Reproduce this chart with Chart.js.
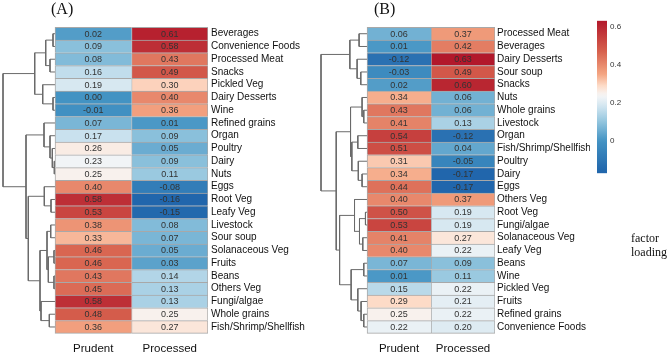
<!DOCTYPE html>
<html>
<head>
<meta charset="utf-8">
<script src="https://cdn.jsdelivr.net/npm/chart.js@4.4.1/dist/chart.umd.min.js"></script>
<style>
  html, body { margin: 0; padding: 0; background: #fff; }
  #wrap { position: relative; width: 669px; height: 355px; overflow: hidden; }
  canvas { position: absolute; top: 0; }
  .tag { position: absolute; font-family: "Liberation Serif", "Times New Roman", serif; color: #111; white-space: nowrap; }
</style>
</head>
<body>
<div id="wrap">
  <canvas id="heatA" width="318" height="355" style="left:0"></canvas>
  <canvas id="heatB" width="274" height="355" style="left:316px"></canvas>
  <canvas id="legend" width="79" height="355" style="left:590px"></canvas>
  <div class="tag" style="left:51px;top:0;font-size:16px;line-height:18px">(A)</div>
  <div class="tag" style="left:374px;top:0;font-size:16px;line-height:18px">(B)</div>
  <div class="tag" style="left:631px;top:231px;font-size:12px;line-height:14px">factor<br>loading</div>
</div>
<script>
const columns = ['Prudent', 'Processed'];

// panel A
const foodsA = ['Beverages', 'Convenience Foods', 'Processed Meat', 'Snacks', 'Pickled Veg',
  'Dairy Desserts', 'Wine', 'Refined grains', 'Organ', 'Poultry', 'Dairy', 'Nuts', 'Eggs',
  'Root Veg', 'Leafy Veg', 'Livestock', 'Sour soup', 'Solanaceous Veg', 'Fruits', 'Beans',
  'Others Veg', 'Fungi/algae', 'Whole grains', 'Fish/Shrimp/Shellfish'];
const prudentA = [0.02, 0.09, 0.08, 0.16, 0.19, 0.00, -0.01, 0.07, 0.17, 0.26, 0.23, 0.25, 0.40,
  0.58, 0.53, 0.38, 0.33, 0.46, 0.46, 0.43, 0.45, 0.58, 0.48, 0.36];
const processedA = [0.61, 0.58, 0.43, 0.49, 0.30, 0.40, 0.36, 0.01, 0.09, 0.05, 0.09, 0.11, -0.08,
  -0.16, -0.15, 0.08, 0.07, 0.05, 0.03, 0.14, 0.13, 0.13, 0.25, 0.27];
// row clustering: [left, right, height], a number is a row
const treeA = [
  [[[0, 1, 2], [2, 3, 5], 9.3], [4, [5, 6, 2], 12.3], 20.3],
  [[7, [8, [9, [10, 11, 0.7], 2.7], 5], 11],
   [[12, [13, 14, 4], 10.7],
    [[[15, 16, 4.3], [[17, 18, 1], [19, 20, 1], 6.7], 8], [21, [22, 23, 5.7], 14], 15],
    26.7],
   29],
  52];

// panel B
const foodsB = ['Processed Meat', 'Beverages', 'Dairy Desserts', 'Sour soup', 'Snacks', 'Nuts',
  'Whole grains', 'Livestock', 'Organ', 'Fish/Shrimp/Shellfish', 'Poultry', 'Dairy', 'Eggs',
  'Others Veg', 'Root Veg', 'Fungi/algae', 'Solanaceous Veg', 'Leafy Veg', 'Beans', 'Wine',
  'Pickled Veg', 'Fruits', 'Refined grains', 'Convenience Foods'];
const prudentB = [0.06, 0.01, -0.12, -0.03, 0.02, 0.34, 0.43, 0.41, 0.54, 0.51, 0.31, 0.34, 0.44,
  0.40, 0.50, 0.53, 0.41, 0.40, 0.07, 0.01, 0.15, 0.29, 0.25, 0.22];
const processedB = [0.37, 0.42, 0.63, 0.49, 0.60, 0.06, 0.06, 0.13, -0.12, 0.04, -0.05, -0.17, -0.17,
  0.37, 0.19, 0.19, 0.27, 0.22, 0.09, 0.11, 0.22, 0.21, 0.22, 0.20];
const treeB = [
  [[0, 1, 8], [2, [3, 4, 6.3], 10], 17.3],
  [[[5, [6, 7, 3.3], 5], [[8, 9, 9.3], [10, [11, 12, 5], 8.8], 15.3], 16.6],
   [[13, [[14, 15, 1.6], [16, 17, 4.3], 7.6], 12.6],
    [[18, 19, 3.3], [20, [21, [22, 23, 3.3], 6], 9.3], 16],
    27.6],
   31],
  46.3];

const legendTicks = [0, 0.2, 0.4, 0.6];

// blue - white - red ramp
const palette = [
  [-0.16, '#2166AC'], [0.0, '#4393C3'], [0.1, '#92C5DE'], [0.18, '#D1E5F0'], [0.24, '#F7F7F7'],
  [0.29, '#FDDBC7'], [0.35, '#F4A582'], [0.47, '#D6604D'], [0.63, '#B2182B']
];

const sans = '"Liberation Sans", Arial, sans-serif';

function hexRgb(h) {
  const n = parseInt(h.slice(1), 16);
  return [n >> 16, (n >> 8) & 255, n & 255];
}

function loadingColor(v) {
  if (v <= palette[0][0]) return palette[0][1];
  for (let i = 1; i < palette.length; i++) {
    if (v <= palette[i][0]) {
      const [v0, c0] = palette[i - 1];
      const [v1, c1] = palette[i];
      const t = (v - v0) / (v1 - v0);
      const a = hexRgb(c0), b = hexRgb(c1);
      return 'rgb(' + a.map((x, k) => Math.round(x + (b[k] - x) * t)).join(',') + ')';
    }
  }
  return palette[palette.length - 1][1];
}

// elbow lines of the dendrogram, height grows to the left of the heatmap
function treePoints(tree, k) {
  const pts = [];
  const walk = node => {
    if (typeof node === 'number') return { y: node, h: 0 };
    const [l, r, h] = node;
    const a = walk(l), b = walk(r);
    pts.push({ x: -a.h * k, y: a.y }, { x: -h * k, y: a.y }, { x: -h * k, y: b.y },
      { x: -b.h * k, y: b.y }, { x: null, y: null });
    return { y: (a.y + b.y) / 2, h };
  };
  walk(tree);
  return pts;
}

const cellText = {
  id: 'cellText',
  afterDatasetsDraw(chart) {
    const ctx = chart.ctx;
    ctx.save();
    ctx.font = '9px ' + sans;
    ctx.fillStyle = '#333';
    ctx.textAlign = 'center';
    ctx.textBaseline = 'middle';
    chart.data.datasets.forEach((ds, d) => {
      if (!ds.values) return;
      chart.getDatasetMeta(d).data.forEach((bar, i) => {
        const { x, base, y } = bar.getProps(['x', 'base', 'y'], true);
        ctx.fillText(ds.values[i].toFixed(2), (x + base) / 2, y + 0.5);
      });
    });
    ctx.restore();
  }
};

function heatmap(id, foods, prudent, processed, tree, o) {
  const k = o.treeWidth / tree[2];
  const datasets = [prudent, processed].map((vals, c) => ({
    type: 'bar',
    label: columns[c],
    values: vals,
    data: vals.map((v, i) => ({ x: [c, c + 1], y: i })),
    backgroundColor: ctx => loadingColor(vals[ctx.dataIndex]),
    borderColor: '#a8a8a8',
    borderWidth: ctx => ({ left: 1, top: 1, right: c === 1 ? 1 : 0, bottom: ctx.dataIndex === vals.length - 1 ? 1 : 0 }),
    borderSkipped: false,
    grouped: false,
    barPercentage: 1,
    categoryPercentage: 1
  }));
  datasets.push({
    type: 'line',
    data: treePoints(tree, k),
    borderColor: '#6a6a6a',
    borderWidth: 1,
    pointRadius: 0,
    fill: false,
    spanGaps: false,
    clip: false
  });

  return new Chart(document.getElementById(id), {
    type: 'bar',
    data: { datasets },
    options: {
      indexAxis: 'y',
      responsive: false,
      animation: false,
      events: [],
      layout: { padding: o.padding },
      plugins: { legend: { display: false }, tooltip: { enabled: false } },
      scales: {
        x: {
          type: 'linear', min: -o.treeWidth, max: 2, position: 'bottom',
          grid: { display: false, drawTicks: false }, border: { display: false },
          afterBuildTicks: s => { s.ticks = columns.map((_, c) => ({ value: c + 0.5 })); },
          afterFit: s => { s.height = 15; },
          ticks: { callback: (v, i) => columns[i], font: { family: sans, size: 11.5 }, color: '#111',
            padding: 2, maxRotation: 0, autoSkip: false }
        },
        y: {
          type: 'linear', reverse: true, min: -0.5, max: foods.length - 0.5, position: 'right',
          grid: { display: false, drawTicks: false }, border: { display: false },
          afterBuildTicks: s => { s.ticks = foods.map((_, i) => ({ value: i })); },
          afterFit: s => { s.width = o.yAxisWidth; },
          ticks: { callback: (v, i) => foods[i], font: { family: sans, size: 10 }, color: '#111',
            padding: o.labelGap, autoSkip: false }
        }
      }
    },
    plugins: [cellText]
  });
}

heatmap('heatA', foodsA, prudentA, processedA, treeA,
  { treeWidth: 0.68, yAxisWidth: 110, labelGap: 3, padding: { left: 3, top: 20.7, right: 0, bottom: 0 } });
heatmap('heatB', foodsB, prudentB, processedB, treeB,
  { treeWidth: 0.72, yAxisWidth: 95, labelGap: 2, padding: { left: 5, top: 20.7, right: 0, bottom: 0 } });

// colour key
const allValues = [...prudentA, ...processedA, ...prudentB, ...processedB];
const lo = Math.min(...allValues), hi = Math.max(...allValues);

function keyGradient(chart) {
  if (!chart.chartArea) return palette[0][1];
  const y = chart.scales.y;
  const g = chart.ctx.createLinearGradient(0, y.getPixelForValue(lo), 0, y.getPixelForValue(hi));
  for (let i = 0; i <= 40; i++) g.addColorStop(i / 40, loadingColor(lo + (hi - lo) * i / 40));
  return g;
}

new Chart(document.getElementById('legend'), {
  type: 'bar',
  data: {
    labels: ['factor loading'],
    datasets: [{ data: [[lo, hi]], backgroundColor: ctx => keyGradient(ctx.chart), borderWidth: 0,
      barPercentage: 1, categoryPercentage: 1 }]
  },
  options: {
    responsive: false,
    animation: false,
    events: [],
    layout: { padding: { left: 7, top: 20.7, right: 0, bottom: 181.7 } },
    plugins: { legend: { display: false }, tooltip: { enabled: false } },
    scales: {
      x: { display: false },
      y: {
        position: 'right', min: lo, max: hi,
        grid: { display: false, drawTicks: false }, border: { display: false },
        afterBuildTicks: s => { s.ticks = legendTicks.map(v => ({ value: v })); },
        afterFit: s => { s.width = 62; },
        ticks: { padding: 3, font: { family: sans, size: 8 }, color: '#333',
          callback: v => (v === 0 ? '0' : v.toFixed(1)) }
      }
    }
  }
});
</script>
</body>
</html>
